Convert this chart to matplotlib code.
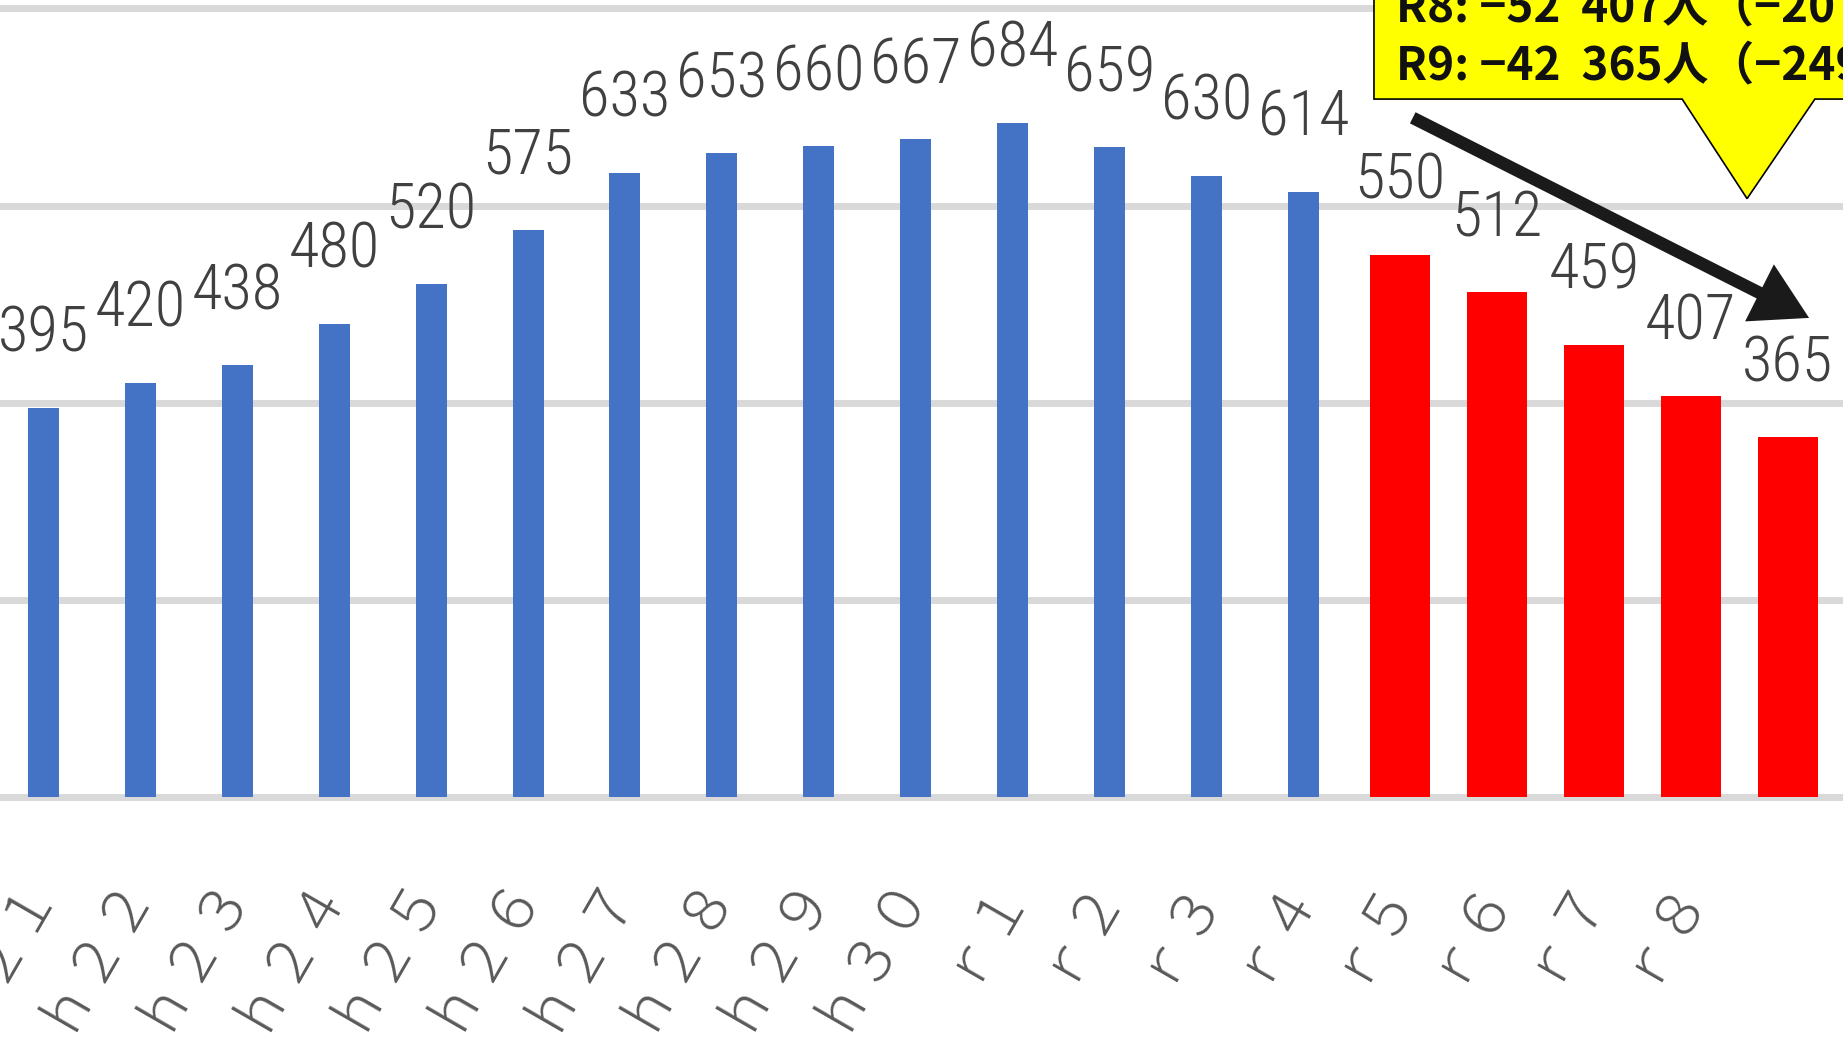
import matplotlib
matplotlib.use("Agg")
import matplotlib.pyplot as plt
from matplotlib import font_manager as fm
from matplotlib.patches import Polygon

# データ
categories = ["h21", "h22", "h23", "h24", "h25", "h26", "h27", "h28", "h29", "h30",
              "r1", "r2", "r3", "r4", "r5", "r6", "r7", "r8", "r9"]
tick_labels = ["ｈ２１", "ｈ２２", "ｈ２３", "ｈ２４", "ｈ２５", "ｈ２６", "ｈ２７", "ｈ２８", "ｈ２９", "ｈ３０",
               "ｒ１", "ｒ２", "ｒ３", "ｒ４", "ｒ５", "ｒ６", "ｒ７", "ｒ８", ""]
values = [395, 420, 438, 480, 520, 575, 633, 653, 660, 667, 684, 659, 630, 614,
          550, 512, 459, 407, 365]
red_from = 14  # r5以降は赤で強調
callout_lines = ["R8: −52  407人（−207）", "R9: −42  365人（−249）"]

BLUE = "#4472C4"
RED = "#FF0000"
GRID = "#D9D9D9"

# 細い数字用フォントを探す
names = {f.name for f in fm.fontManager.ttflist}
label_kw = dict(family=["DejaVu Sans"], fontsize=36)
for cand in ["Roboto Condensed", "Liberation Sans Narrow", "Open Sans Condensed"]:
    if cand in names:
        label_kw = dict(family=[cand, "DejaVu Sans"], fontweight="light", fontsize=45)
        break
else:
    if "Roboto" in names:
        label_kw = dict(family=["Roboto", "DejaVu Sans"], fontweight="light", fontsize=38)

fig = plt.figure(figsize=(18.43, 10.58), dpi=100)
ax = fig.add_axes([0, 261 / 1058, 1, 797 / 1058])
ax.set_xlim(-0.449, 18.57)
ax.set_ylim(0, 808.5)
ax.axis("off")

# 目盛線
for yv in range(0, 801, 200):
    ax.axhline(yv, color=GRID, lw=5, zorder=0, clip_on=False)

x = list(range(len(categories)))
ax.bar(x, values, width=0.32, color=BLUE, zorder=2)
ax.bar(x[red_from:], values[red_from:], width=0.62, color=RED, zorder=3)

# データラベル
for i, v in enumerate(values):
    ax.text(i, v + 57, str(v), ha="center", va="baseline",
            color="#404040", zorder=4, **label_kw)

# 軸ラベル（斜め）
for i, lab in enumerate(tick_labels):
    ax.text(i - 0.05, -76, lab, rotation=60, rotation_mode="anchor",
            ha="right", va="center", fontsize=42, color="#595959",
            family=["Noto Sans CJK JP", "DejaVu Sans"], fontweight="light",
            clip_on=False)

# 吹き出し
box = Polygon([(13.73, 708), (16.91, 708), (17.58, 607), (18.28, 708),
               (19.5, 708), (19.5, 900), (13.73, 900)],
              closed=True, facecolor="#FFFF00", edgecolor="black", lw=1.2,
              zorder=5, clip_on=False)
ax.add_patch(box)
for k, line in enumerate(callout_lines):
    ax.text(13.96, 787 - k * 59, line, ha="left", va="baseline", fontsize=33,
            fontweight="bold", color="#111111",
            family=["Noto Sans CJK JP", "DejaVu Sans"], zorder=6, clip_on=False)

# 矢印
ax.annotate("", xy=(18.22, 486), xytext=(14.13, 689),
            arrowprops=dict(arrowstyle="simple,head_length=2.0,head_width=2.3,tail_width=0.45",
                            mutation_scale=20, color="#1A1A1A", lw=0,
                            shrinkA=0, shrinkB=0),
            zorder=6)

fig.savefig("out.png", dpi=100)
